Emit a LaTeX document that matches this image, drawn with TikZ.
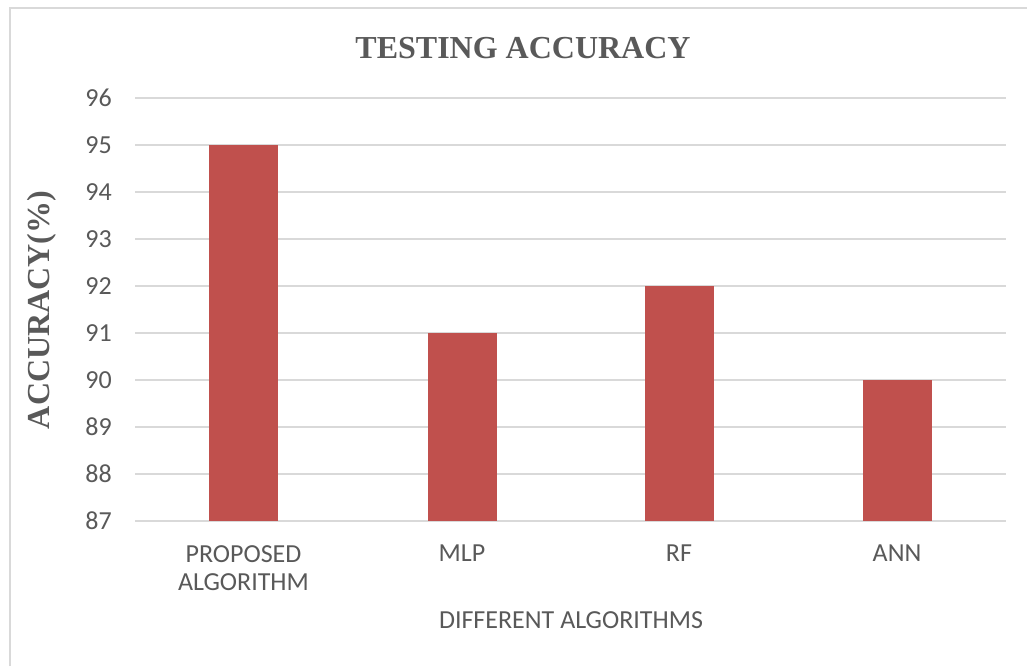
\documentclass[tikz,border=0pt]{standalone}
\usepackage{fontspec}
\setmainfont{Liberation Serif}
\newfontfamily\chartsans{Carlito}
\usepackage{tikz}
\usetikzlibrary{positioning}
\definecolor{barred}{RGB}{192,80,77}
\definecolor{gridgray}{RGB}{217,217,217}
\definecolor{textgray}{RGB}{89,89,89}
\tikzset{
	accuracy chart/.style={
		x=1pt,y=1pt,
		font=\chartsans\fontsize{26}{28}\selectfont,
		text=textgray
	},
	frame line/.style={
		gridgray,
		line width=1.5pt
	},
	grid line/.style={
		gridgray,
		line width=1.5pt
	},
	bar/.style={
		fill=barred,
		draw=none
	},
	tick label/.style={
		anchor=east,
		inner sep=0pt
	},
	category label/.style={
		anchor=north,
		inner sep=0pt,
		align=center
	},
	chart title/.style={
		anchor=base,
		inner sep=0pt,
		font=\rmfamily\bfseries\fontsize{32}{36}\selectfont
	},
	axis title/.style={
		inner sep=0pt,
		font=\rmfamily\bfseries\fontsize{32}{36}\selectfont
	}
}

\begin{document}
\begin{tikzpicture}[accuracy chart]
	\useasboundingbox (0,0) rectangle (1027,666);
	% outer frame (only top and left show)
	\draw[frame line] (10,0) -- (10,658) -- (1027,658);
	% value axis: 47pt per percent, 87 on the baseline
	\begin{scope}[yshift=-3944pt,y=47pt]
		\foreach \v in {87,...,96}{
			\draw[grid line] (135,\v) -- (1006,\v);
			\node[tick label] (t\v) at (112,\v) {\v};
		}
		% bars
		\foreach \c/\v/\n in {243.5/95/prop,462/91/mlp,679/92/rf,897/90/ann}{
			\fill[bar] (\c-34.5,87) rectangle (\c+34.5,\v);
			\coordinate (\n) at (\c,87);
		}
	\end{scope}
	% category names
	\node[category label] (lprop) at ([yshift=-24pt]prop) {PROPOSED\\ALGORITHM};
	\node[category label] (lmlp) at ([yshift=-24pt]mlp) {MLP};
	\node[category label] (lrf) at ([yshift=-24pt]rf) {RF};
	\node[category label] (lann) at ([yshift=-24pt]ann) {ANN};
	% titles
	\node[chart title] (title) at (523,607) {TESTING ACCURACY};
	\node[category label,anchor=base] (xtitle) at (571,37) {DIFFERENT ALGORITHMS};
	\node[axis title,rotate=90] (ytitle) at (42,356) {ACCURACY(\%)};
\end{tikzpicture}
\end{document}
